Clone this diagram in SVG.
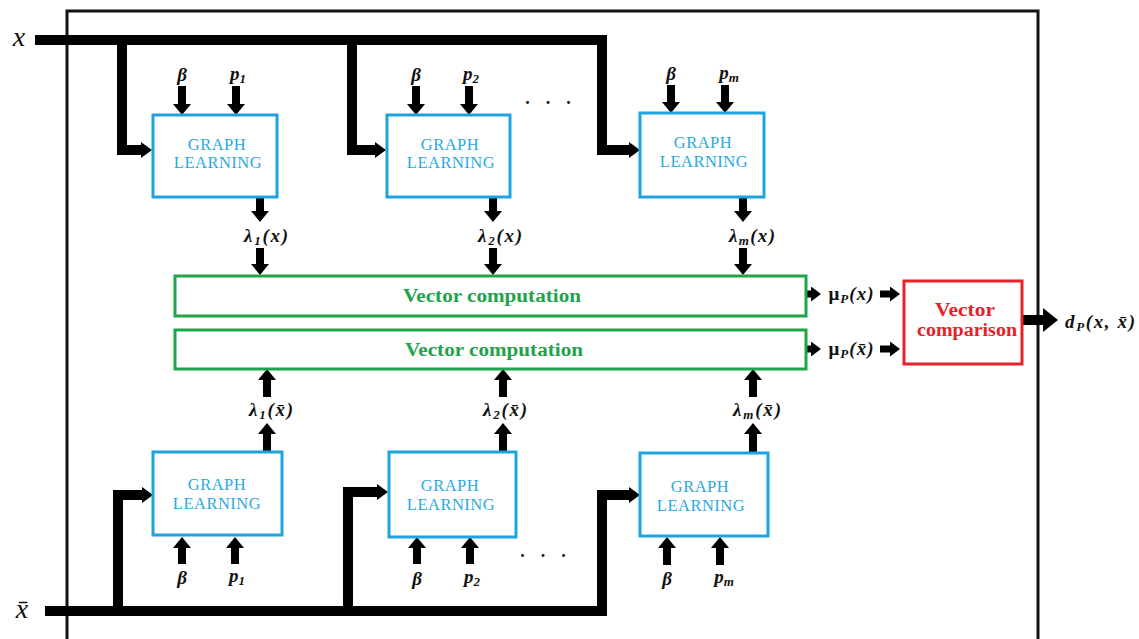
<svg xmlns="http://www.w3.org/2000/svg" width="1139" height="639" viewBox="0 0 1139 639">
<style>
.gl{fill:#fff;stroke:#1ea3dd;stroke-width:3}
.glt{font-family:"Liberation Serif",serif;font-size:16.5px;fill:#2aa9df;text-anchor:middle;letter-spacing:0.5px}
.vc{fill:#fff;stroke:#21a34a;stroke-width:3}
.vct{font-family:"Liberation Serif",serif;font-size:18px;font-weight:bold;fill:#22a34b;text-anchor:middle}
.cmp{fill:#fff;stroke:#e52229;stroke-width:3}
.cmpt{font-family:"Liberation Serif",serif;font-size:18px;font-weight:bold;fill:#e52229;text-anchor:middle}
.m{font-family:"Liberation Serif",serif;font-weight:bold;font-style:italic;font-size:19px;fill:#111;text-anchor:middle}
.sub{font-size:13px}
.bus{fill:none;stroke:#000;stroke-width:10;stroke-linejoin:miter}
.sa{stroke:#000;stroke-width:8;fill:none}
.ma{stroke:#000;stroke-width:7;fill:none}
.big{font-family:"Liberation Serif",serif;font-style:italic;font-size:28px;fill:#111;text-anchor:middle}
.dots{font-family:"Liberation Serif",serif;font-size:18px;font-weight:bold;fill:#111;text-anchor:middle;letter-spacing:16px}
</style>
<defs>
<marker id="s" markerUnits="userSpaceOnUse" markerWidth="11" markerHeight="18" viewBox="0 0 11 18" refX="3" refY="9" orient="auto"><path d="M0,0 L11,9 L0,18 z" fill="#000"/></marker>
<marker id="mm" markerUnits="userSpaceOnUse" markerWidth="10" markerHeight="15" viewBox="0 0 10 15" refX="3" refY="7.5" orient="auto"><path d="M0,0 L10,7.5 L0,15 z" fill="#000"/></marker>
<marker id="b" markerUnits="userSpaceOnUse" markerWidth="11" markerHeight="16" viewBox="0 0 11 16" refX="3" refY="8" orient="auto"><path d="M0,0 L11,8 L0,16 z" fill="#000"/></marker>
<marker id="big" markerUnits="userSpaceOnUse" markerWidth="15" markerHeight="24" viewBox="0 0 15 24" refX="4" refY="12" orient="auto"><path d="M0,0 L15,12 L0,24 z" fill="#000"/></marker>
</defs>
<rect width="1139" height="639" fill="#fff"/>
<rect id="frame" x="67" y="11" width="971" height="660" fill="none" stroke="#111" stroke-width="3"/>

<g id="connectors">
  <path class="bus" d="M35,40 H602 V150 H632" marker-end="url(#b)"/>
  <path class="bus" d="M122,40 V150 H144" marker-end="url(#b)"/>
  <path class="bus" d="M352,40 V150 H378" marker-end="url(#b)"/>
  <path class="bus" d="M45,611 H602 V495 H632" marker-end="url(#b)"/>
  <path class="bus" d="M118,611 V495 H145" marker-end="url(#b)"/>
  <path class="bus" d="M348,611 V492 H380" marker-end="url(#b)"/>
  <path class="sa" d="M182,86 V107" marker-end="url(#s)"/>
  <path class="sa" d="M236,86 V107" marker-end="url(#s)"/>
  <path class="sa" d="M416,86 V107" marker-end="url(#s)"/>
  <path class="sa" d="M469,86 V107" marker-end="url(#s)"/>
  <path class="sa" d="M671,85 V105" marker-end="url(#s)"/>
  <path class="sa" d="M725,85 V105" marker-end="url(#s)"/>
  <path class="sa" d="M260,198 V214" marker-end="url(#s)"/>
  <path class="sa" d="M260,248 V267" marker-end="url(#s)"/>
  <path class="sa" d="M493,198 V214" marker-end="url(#s)"/>
  <path class="sa" d="M493,248 V267" marker-end="url(#s)"/>
  <path class="sa" d="M743,198 V214" marker-end="url(#s)"/>
  <path class="sa" d="M743,248 V267" marker-end="url(#s)"/>
  <path class="sa" d="M267,452 V431" marker-end="url(#s)"/>
  <path class="sa" d="M267,397 V377" marker-end="url(#s)"/>
  <path class="sa" d="M503,452 V431" marker-end="url(#s)"/>
  <path class="sa" d="M503,397 V377" marker-end="url(#s)"/>
  <path class="sa" d="M753,452 V431" marker-end="url(#s)"/>
  <path class="sa" d="M753,397 V377" marker-end="url(#s)"/>
  <path class="sa" d="M182,564 V545" marker-end="url(#s)"/>
  <path class="sa" d="M235,564 V545" marker-end="url(#s)"/>
  <path class="sa" d="M417,564 V545" marker-end="url(#s)"/>
  <path class="sa" d="M470,564 V545" marker-end="url(#s)"/>
  <path class="sa" d="M667,565 V545" marker-end="url(#s)"/>
  <path class="sa" d="M720,565 V545" marker-end="url(#s)"/>
  <path class="ma" d="M806,294 H814" marker-end="url(#mm)"/>
  <path class="ma" d="M880,294 H893" marker-end="url(#mm)"/>
  <path class="ma" d="M806,349 H814" marker-end="url(#mm)"/>
  <path class="ma" d="M880,349 H893" marker-end="url(#mm)"/>
  <path stroke="#000" stroke-width="10" fill="none" d="M1022,320 H1047" marker-end="url(#big)"/>
</g>

<g id="gl-top-1"><rect class="gl" x="153" y="115" width="124" height="82"/><text class="glt" x="217" y="150">GRAPH</text><text class="glt" x="218" y="168">LEARNING</text></g>
<g id="gl-top-2"><rect class="gl" x="387" y="115" width="123" height="82"/><text class="glt" x="450" y="150">GRAPH</text><text class="glt" x="451" y="168">LEARNING</text></g>
<g id="gl-top-3"><rect class="gl" x="640" y="113" width="124" height="84"/><text class="glt" x="703" y="148">GRAPH</text><text class="glt" x="704" y="167">LEARNING</text></g>
<g id="gl-bot-1"><rect class="gl" x="153" y="452" width="129" height="83"/><text class="glt" x="217" y="490">GRAPH</text><text class="glt" x="217" y="509">LEARNING</text></g>
<g id="gl-bot-2"><rect class="gl" x="389" y="452" width="127" height="85"/><text class="glt" x="450" y="491">GRAPH</text><text class="glt" x="451" y="510">LEARNING</text></g>
<g id="gl-bot-3"><rect class="gl" x="640" y="453" width="128" height="83"/><text class="glt" x="700" y="492">GRAPH</text><text class="glt" x="701" y="511">LEARNING</text></g>

<g id="vc-top"><rect class="vc" x="175" y="276" width="631" height="40"/><text class="vct" x="492" y="302" textLength="178" lengthAdjust="spacingAndGlyphs">Vector computation</text></g>
<g id="vc-bot"><rect class="vc" x="175" y="330" width="631" height="39"/><text class="vct" x="494" y="356" textLength="178" lengthAdjust="spacingAndGlyphs">Vector computation</text></g>

<g id="compare"><rect class="cmp" x="904" y="281" width="118" height="83"/><text class="cmpt" x="965" y="316" textLength="60" lengthAdjust="spacingAndGlyphs">Vector</text><text class="cmpt" x="967" y="336" textLength="100" lengthAdjust="spacingAndGlyphs">comparison</text></g>

<g id="labels">
  <text class="big" x="19" y="46">x</text>
  <text class="big" x="22" y="618">x̄</text>
  <text class="m" x="182" y="81">β</text>
  <text class="m" x="238" y="80">p<tspan class="sub" dy="3">1</tspan></text>
  <text class="m" x="416" y="81">β</text>
  <text class="m" x="471" y="80">p<tspan class="sub" dy="3">2</tspan></text>
  <text class="m" x="671" y="80">β</text>
  <text class="m" x="729" y="79">p<tspan class="sub" dy="3">m</tspan></text>
  <text class="m" x="182" y="584">β</text>
  <text class="m" x="237" y="582">p<tspan class="sub" dy="3">1</tspan></text>
  <text class="m" x="417" y="585">β</text>
  <text class="m" x="472" y="583">p<tspan class="sub" dy="3">2</tspan></text>
  <text class="m" x="667" y="585">β</text>
  <text class="m" x="724" y="583">p<tspan class="sub" dy="3">m</tspan></text>
  <text class="m" x="266" y="242" font-size="17" textLength="44">λ<tspan class="sub" dy="3">1</tspan><tspan dy="-3">(x)</tspan></text>
  <text class="m" x="500" y="242" font-size="17" textLength="44">λ<tspan class="sub" dy="3">2</tspan><tspan dy="-3">(x)</tspan></text>
  <text class="m" x="752" y="242" font-size="17" textLength="46">λ<tspan class="sub" dy="3">m</tspan><tspan dy="-3">(x)</tspan></text>
  <text class="m" x="271" y="416" font-size="17" textLength="44">λ<tspan class="sub" dy="3">1</tspan><tspan dy="-3">(x̄)</tspan></text>
  <text class="m" x="505" y="416" font-size="17" textLength="44">λ<tspan class="sub" dy="3">2</tspan><tspan dy="-3">(x̄)</tspan></text>
  <text class="m" x="757" y="416" font-size="17" textLength="48">λ<tspan class="sub" dy="3">m</tspan><tspan dy="-3">(x̄)</tspan></text>
  <text class="m" x="851" y="300" font-size="17" textLength="45"><tspan font-style="normal">μ</tspan><tspan class="sub" dy="3">P</tspan><tspan dy="-3">(x)</tspan></text>
  <text class="m" x="851" y="355" font-size="17" textLength="45"><tspan font-style="normal">μ</tspan><tspan class="sub" dy="3">P</tspan><tspan dy="-3">(x̄)</tspan></text>
  <text class="m" x="1100" y="328" font-size="21" textLength="70">d<tspan class="sub" dy="3">P</tspan><tspan dy="-3">(x, x̄)</tspan></text>
  <text class="dots" x="556" y="104">...</text>
  <text class="dots" x="551" y="557">...</text>
</g>
</svg>
